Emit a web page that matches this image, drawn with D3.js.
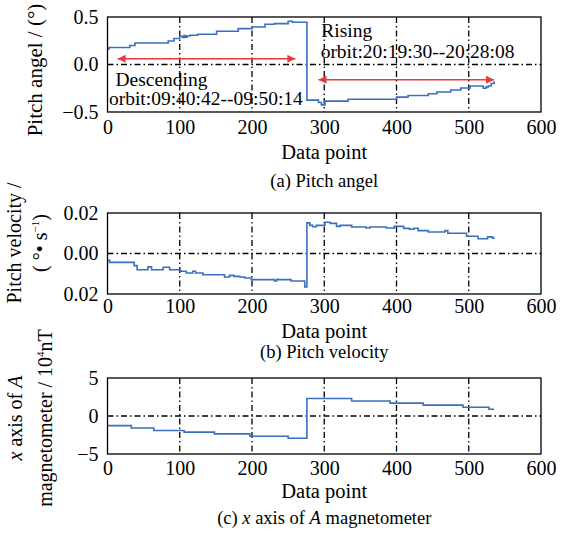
<!DOCTYPE html>
<html>
<head>
<meta charset="utf-8">
<script src="https://cdn.jsdelivr.net/npm/d3@7"></script>
<style>
  body { margin: 0; background: #fff; }
</style>
</head>
<body>
<svg id="chart" width="561" height="534"></svg>
<script>
// x axis shared by all panels
const xTicks = [0, 100, 200, 300, 400, 500, 600];
const xGrid = [100, 200, 300, 400, 500];

// (a) pitch angle, step values
const pitchX = [0, 2, 31, 38, 84, 92, 100, 104, 106, 108, 110, 114, 125, 151, 181, 200, 218, 231, 250, 256,
  276, 292, 296, 301, 333, 400, 416, 444, 456, 475, 489, 502, 520, 524, 527, 531, 535];
const pitchY = [0.161, 0.179, 0.2, 0.227, 0.248, 0.273, 0.297, 0.285, 0.305, 0.288, 0.3, 0.308, 0.318, 0.35, 0.378, 0.394, 0.423, 0.43, 0.455, 0.444,
  -0.375, -0.4, -0.425, -0.385, -0.365, -0.343, -0.326, -0.308, -0.29, -0.269, -0.248, -0.227, -0.25, -0.235, -0.227, -0.2, -0.175];
const pitchTicks = [-0.5, 0, 0.5];
const pitchTickLabels = ["\u22120.5", "0.0", "0.5"];

// (b) pitch velocity
const velX = [0, 3, 37, 41, 56, 61, 77, 86, 101, 109, 118, 122, 132, 162, 169, 175, 183, 190, 199, 231, 234, 236, 254, 273,
  276, 280, 284, 289, 301, 308, 317, 322, 338, 358, 363, 386, 397, 410, 418, 424, 430, 444, 467, 471, 497, 513, 526, 533, 535];
const velY = [-0.0034, -0.0044, -0.006, -0.008, -0.0066, -0.008, -0.0068, -0.008, -0.0088, -0.0096, -0.0088, -0.0096, -0.0105, -0.0116, -0.0108, -0.0113, -0.0116, -0.0121, -0.0129, -0.0136, -0.0128, -0.0129, -0.0136, -0.0165,
  0.0151, 0.0139, 0.0132, 0.0139, 0.0154, 0.0149, 0.0134, 0.0139, 0.0131, 0.0126, 0.0131, 0.0126, 0.0134, 0.0124, 0.012, 0.0125, 0.0113, 0.0106, 0.0113, 0.01, 0.0085, 0.0073, 0.0082, 0.0075, 0.0073];
const velTicks = [-0.02, 0, 0.02];
const velTickLabels = ["0.02", "0.00", "0.02"];

// (c) x axis of A magnetometer (10^4 nT)
const magX = [0, 33, 64, 106, 148, 197, 250, 276, 338, 391, 437, 492, 528, 535];
const magY = [-1.27, -1.58, -1.9, -2.12, -2.35, -2.66, -2.93, 2.3, 1.97, 1.7, 1.43, 1.16, 0.89, 0.89];
const magTicks = [-5, 0, 5];
const magTickLabels = ["\u22125", "0", "5"];

// annotations of panel (a): arrows [x0, x1, y] and texts
const arrows = [[14, 260, 0.06], [292, 535, -0.16]];
const notes = [
  { x: 11, y: -0.225, text: "Descending" },
  { x: 2, y: -0.425, text: "orbit:09:40:42--09:50:14" },
  { x: 296, y: 0.29, text: "Rising" },
  { x: 295, y: 0.065, text: "orbit:20:19:30--20:28:08" }
];

const font = "'Liberation Serif', 'Times New Roman', serif";
const svg = d3.select("#chart").attr("font-family", font);
const left = 107.5, right = 541;
const x = d3.scaleLinear().domain([0, 600]).range([left, right]);

const lineColor = "#3b6fbf";
const arrowColor = "#e8393c";

// arrow marker heads
const defs = svg.append("defs");
["start", "end"].forEach(function(k) {
  defs.append("marker")
    .attr("id", "head-" + k)
    .attr("viewBox", "0 0 10 10")
    .attr("refX", k === "end" ? 10 : 0)
    .attr("refY", 5)
    .attr("markerWidth", 14)
    .attr("markerHeight", 8)
    .attr("markerUnits", "userSpaceOnUse")
    .attr("orient", "auto")
    .append("path")
    .attr("d", k === "end" ? "M0,0 L10,5 L0,10 Z" : "M10,0 L0,5 L10,10 Z")
    .attr("fill", arrowColor);
});

function drawPanel(p) {
  const y = d3.scaleLinear().domain(p.domain).range([p.bottom, p.top]);
  const g = svg.append("g");

  // grid (dash-dot)
  g.selectAll(".vgrid").data(xGrid).enter().append("line")
    .attr("x1", d => x(d)).attr("x2", d => x(d))
    .attr("y1", p.top).attr("y2", p.bottom)
    .attr("stroke", "#000").attr("stroke-width", 1.3)
    .attr("stroke-dasharray", "6,3,1.5,3");
  g.append("line")
    .attr("x1", left).attr("x2", right)
    .attr("y1", y(0)).attr("y2", y(0))
    .attr("stroke", "#000").attr("stroke-width", 1.3)
    .attr("stroke-dasharray", "6,3,1.5,3");

  // series
  const line = d3.line()
    .x(i => x(p.xs[i]))
    .y(i => y(p.ys[i]))
    .curve(d3.curveStepAfter);
  g.append("path")
    .attr("d", line(d3.range(p.xs.length)))
    .attr("fill", "none")
    .attr("stroke", lineColor)
    .attr("stroke-width", 1.6);

  // frame
  g.append("rect")
    .attr("x", left).attr("y", p.top)
    .attr("width", right - left).attr("height", p.bottom - p.top)
    .attr("fill", "none").attr("stroke", "#000").attr("stroke-width", 1.3);

  // x axis
  const xa = g.append("g")
    .attr("transform", "translate(0," + p.bottom + ")")
    .call(d3.axisBottom(x).tickValues(xTicks).tickSize(0).tickPadding(p.xPad));
  xa.attr("font-family", font).attr("font-size", 20);
  xa.select(".domain").remove();
  xa.selectAll("text").attr("fill", "#000");

  // y axis
  const ya = g.append("g")
    .attr("transform", "translate(" + left + ",0)")
    .call(d3.axisLeft(y).tickValues(p.ticks).tickSize(0).tickPadding(9)
      .tickFormat((d, i) => p.tickLabels[i]));
  ya.attr("font-family", font).attr("font-size", 20);
  ya.select(".domain").remove();
  ya.selectAll("text").attr("fill", "#000");

  // axis title and caption
  g.append("text")
    .attr("x", (left + right) / 2).attr("y", p.titleY)
    .attr("text-anchor", "middle").attr("font-size", 20.5)
    .text("Data point");
  const cap = g.append("text")
    .attr("x", (left + right) / 2).attr("y", p.capY)
    .attr("text-anchor", "middle").attr("font-size", 18.5);
  p.caption.forEach(function(c) {
    cap.append("tspan").attr("font-style", c[1] ? "italic" : null).text(c[0]);
  });

  // y label lines
  p.yLabel.forEach(function(l) {
    const t = g.append("text")
      .attr("transform", "translate(" + l.x + "," + p.yLabelY + ") rotate(-90)")
      .attr("text-anchor", "middle").attr("font-size", l.size || 20);
    l.parts.forEach(function(c) {
      const s = t.append("tspan").text(c[0]);
      if (c[1] === "i") s.attr("font-style", "italic");
      if (c[1] === "sup") s.attr("font-size", 11).attr("dy", -8);
      if (c[1] === "after") s.attr("dy", 8);
    });
  });
  return { g: g, y: y };
}

// (a)
const pa = drawPanel({
  top: 17, bottom: 112, domain: [-0.5, 0.5], xs: pitchX, ys: pitchY,
  ticks: pitchTicks, tickLabels: pitchTickLabels,
  xPad: 8, titleY: 159, capY: 187, yLabelY: 70,
  caption: [["(a) Pitch angel"]],
  yLabel: [{ x: 42, size: 21, parts: [["Pitch angel / (\u00b0)"]] }]
});

// (b)
drawPanel({
  top: 213, bottom: 294, domain: [-0.02, 0.02], xs: velX, ys: velY,
  ticks: velTicks, tickLabels: velTickLabels,
  xPad: 5, titleY: 338, capY: 358, yLabelY: 243,
  caption: [["(b) Pitch velocity"]],
  yLabel: [
    { x: 21, parts: [["Pitch velocity /"]] },
    { x: 47, parts: [["( \u00b0\u2022 s"], ["\u22121", "sup"], [")", "after"]] }
  ]
});

// (c)
drawPanel({
  top: 378, bottom: 454, domain: [-5, 5], xs: magX, ys: magY,
  ticks: magTicks, tickLabels: magTickLabels,
  xPad: 7, titleY: 498, capY: 524, yLabelY: 418,
  caption: [["(c) "], ["x", 1], [" axis of "], ["A", 1], [" magnetometer"]],
  yLabel: [
    { x: 22, parts: [["x", "i"], [" axis of "], ["A", "i"]] },
    { x: 52, parts: [["magnetometer / 10"], ["4", "sup"], ["nT", "after"]] }
  ]
});

// annotations on (a)
pa.g.selectAll(".arrow").data(arrows).enter().append("line")
  .attr("x1", d => x(d[0])).attr("x2", d => x(d[1]))
  .attr("y1", d => pa.y(d[2])).attr("y2", d => pa.y(d[2]))
  .attr("stroke", arrowColor).attr("stroke-width", 1.6)
  .attr("marker-start", "url(#head-start)")
  .attr("marker-end", "url(#head-end)");
pa.g.selectAll(".note").data(notes).enter().append("text")
  .attr("x", d => x(d.x)).attr("y", d => pa.y(d.y))
  .attr("font-size", 19.5)
  .text(d => d.text);
</script>
</body>
</html>
